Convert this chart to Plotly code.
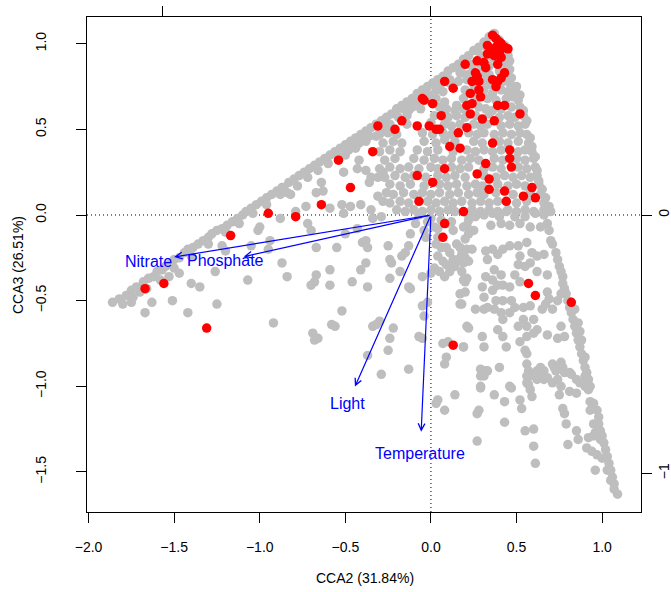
import plotly.graph_objects as go

# ---------------- data (site scores, CCA2 vs CCA3) ----------------
gray_left_band = [
    (-1.86, -0.51), (-1.82, -0.49), (-1.78, -0.47), (-1.75, -0.44), (-1.72, -0.42), (-1.70, -0.45),
    (-1.68, -0.39), (-1.65, -0.37), (-1.62, -0.36), (-1.60, -0.33), (-1.57, -0.32), (-1.55, -0.30),
    (-1.52, -0.28), (-1.50, -0.26), (-1.47, -0.25), (-1.44, -0.22), (-1.42, -0.20), (-1.39, -0.19),
    (-1.36, -0.17), (-1.33, -0.15), (-1.30, -0.13), (-1.28, -0.11), (-1.25, -0.09), (-1.22, -0.08),
    (-1.19, -0.06), (-1.16, -0.04), (-1.13, -0.02), (-1.10, 0.00), (-1.08, 0.02), (-1.05, 0.04),
    (-1.02, 0.06), (-0.99, 0.08), (-0.96, 0.10), (-0.93, 0.12), (-0.90, 0.14), (-0.87, 0.16),
    (-1.80, -0.52), (-1.74, -0.48), (-1.66, -0.43), (-1.58, -0.38), (-1.50, -0.31), (-1.40, -0.24),
    (-1.30, -0.17), (-1.20, -0.10), (-1.12, -0.05), (-1.04, 0.01), (-0.96, 0.06), (-0.88, 0.12),
]
gray_left_scatter = [
    (-1.75, -0.51), (-1.67, -0.57), (-1.63, -0.51), (-1.51, -0.50), (-1.53, -0.36), (-1.47, -0.34),
    (-1.40, -0.40), (-1.35, -0.42), (-1.42, -0.57), (-1.25, -0.52), (-1.26, -0.33), (-1.22, -0.18),
    (-1.20, -0.21), (-1.07, -0.38), (-1.00, -0.07), (-1.01, -0.09), (-0.94, -0.15), (-0.95, -0.20),
    (-0.87, -0.28), (-0.84, -0.36), (-0.88, -0.02), (-0.82, 0.12), (-0.92, -0.63), (-1.05, -0.18),
]
gray_upper_band = [
    (-0.86, 0.16), (-0.83, 0.19), (-0.80, 0.21), (-0.77, 0.23), (-0.74, 0.25), (-0.71, 0.27),
    (-0.68, 0.29), (-0.65, 0.31), (-0.62, 0.33), (-0.59, 0.35), (-0.56, 0.37), (-0.53, 0.39),
    (-0.50, 0.41), (-0.47, 0.43), (-0.44, 0.45), (-0.41, 0.47), (-0.38, 0.49), (-0.35, 0.51),
    (-0.32, 0.53), (-0.29, 0.55), (-0.26, 0.57), (-0.23, 0.59),
    (-0.84, 0.13), (-0.78, 0.17), (-0.72, 0.22), (-0.66, 0.26), (-0.60, 0.30), (-0.54, 0.34),
    (-0.48, 0.38), (-0.42, 0.42), (-0.36, 0.46), (-0.30, 0.50), (-0.25, 0.53),
    (-0.50, 0.35), (-0.44, 0.39), (-0.38, 0.43), (-0.32, 0.46), (-0.27, 0.49),
]
gray_upper_inner = [
    (-0.42, 0.32), (-0.43, 0.27), (-0.38, 0.26), (-0.51, 0.25), (-0.64, 0.19), (-0.67, 0.13),
    (-0.63, 0.14), (-0.52, 0.06), (-0.47, 0.05), (-0.41, 0.06), (-0.36, 0.19), (-0.35, 0.22),
    (-0.31, 0.22), (-0.28, 0.25), (-0.31, 0.11), (-0.28, 0.08), (-0.26, 0.13), (-0.73, 0.05),
    (-0.79, 0.02), (-0.59, 0.04), (-0.51, 0.01), (-0.35, 0.03),
]
gray_top_band = [
    (-0.20, 0.62), (-0.17, 0.64), (-0.14, 0.66), (-0.11, 0.68), (-0.08, 0.71), (-0.05, 0.73),
    (-0.02, 0.75), (0.01, 0.77), (0.04, 0.79), (0.07, 0.81), (0.10, 0.84), (0.13, 0.86),
    (0.16, 0.88), (0.19, 0.91), (0.22, 0.93), (0.25, 0.96), (0.28, 0.98), (0.31, 1.01),
    (0.34, 1.04), (0.37, 1.06),
    (-0.19, 0.57), (-0.13, 0.61), (-0.07, 0.66), (-0.01, 0.70), (0.05, 0.74), (0.11, 0.79),
    (0.17, 0.83), (0.23, 0.88), (0.29, 0.93), (0.33, 0.97),
]
gray_core = [
    (0.40, 1.02), (0.43, 0.99), (0.39, 0.97),
    (0.31, 0.93), (0.36, 0.92), (0.41, 0.94), (0.45, 0.93),
    (0.24, 0.87), (0.29, 0.88), (0.34, 0.87), (0.39, 0.89), (0.44, 0.88), (0.46, 0.85),
    (0.18, 0.83), (0.22, 0.82), (0.30, 0.83), (0.34, 0.82), (0.40, 0.84), (0.45, 0.82),
    (0.11, 0.77), (0.16, 0.78), (0.21, 0.79), (0.25, 0.76), (0.31, 0.78), (0.35, 0.76), (0.42, 0.78), (0.46, 0.77),
    (0.03, 0.73), (0.07, 0.72), (0.20, 0.73), (0.25, 0.72), (0.31, 0.73), (0.36, 0.71), (0.41, 0.73), (0.45, 0.72), (0.49, 0.73),
    (-0.07, 0.68), (-0.02, 0.67), (0.03, 0.68), (0.08, 0.66), (0.15, 0.64), (0.19, 0.68), (0.26, 0.67), (0.33, 0.68),
    (0.38, 0.67), (0.44, 0.68), (0.48, 0.69), (0.51, 0.67),
    (-0.16, 0.62), (-0.11, 0.63), (-0.06, 0.62), (0.05, 0.63), (0.09, 0.62), (0.14, 0.61), (0.19, 0.62), (0.28, 0.63),
    (0.32, 0.62), (0.36, 0.61), (0.41, 0.62), (0.47, 0.63), (0.52, 0.63),
    (-0.14, 0.58), (0.02, 0.58), (0.10, 0.57), (0.15, 0.58), (0.20, 0.57), (0.26, 0.58), (0.34, 0.59), (0.40, 0.57),
    (0.45, 0.58), (0.49, 0.57), (0.54, 0.58),
    (-0.28, 0.52), (-0.24, 0.53), (-0.14, 0.53), (0.00, 0.54), (0.08, 0.53), (0.12, 0.52), (0.17, 0.53), (0.25, 0.53),
    (0.29, 0.52), (0.33, 0.53), (0.41, 0.52), (0.46, 0.53), (0.51, 0.52), (0.55, 0.53),
    (-0.30, 0.47), (-0.25, 0.48), (-0.20, 0.47), (-0.05, 0.48), (0.01, 0.47), (0.07, 0.48), (0.12, 0.47), (0.22, 0.48),
    (0.27, 0.47), (0.31, 0.48), (0.37, 0.47), (0.42, 0.48), (0.47, 0.47), (0.52, 0.48), (0.56, 0.47),
    (-0.28, 0.42), (-0.22, 0.43), (-0.17, 0.42), (-0.04, 0.43), (0.03, 0.42), (0.08, 0.44), (0.14, 0.43), (0.25, 0.43),
    (0.30, 0.42), (0.40, 0.43), (0.45, 0.42), (0.51, 0.43), (0.57, 0.42),
    (-0.30, 0.37), (-0.24, 0.38), (-0.18, 0.37), (-0.08, 0.38), (-0.02, 0.37), (0.04, 0.38), (0.13, 0.37), (0.21, 0.38),
    (0.26, 0.37), (0.31, 0.38), (0.36, 0.37), (0.41, 0.38), (0.51, 0.37), (0.55, 0.38), (0.59, 0.37),
    (-0.27, 0.32), (-0.21, 0.33), (-0.10, 0.33), (-0.04, 0.32), (0.02, 0.33), (0.07, 0.32), (0.12, 0.33), (0.18, 0.32),
    (0.23, 0.33), (0.28, 0.32), (0.37, 0.33), (0.42, 0.32), (0.50, 0.33), (0.55, 0.32), (0.60, 0.33),
    (-0.30, 0.27), (-0.24, 0.28), (-0.18, 0.27), (-0.13, 0.28), (-0.07, 0.27), (0.00, 0.28), (0.04, 0.27), (0.12, 0.28),
    (0.17, 0.27), (0.22, 0.28), (0.31, 0.27), (0.36, 0.28), (0.41, 0.27), (0.51, 0.28), (0.56, 0.27), (0.61, 0.28),
    (-0.27, 0.22), (-0.21, 0.23), (-0.15, 0.22), (-0.10, 0.23), (-0.03, 0.22), (0.04, 0.23), (0.09, 0.22), (0.14, 0.23),
    (0.20, 0.22), (0.31, 0.23), (0.38, 0.22), (0.43, 0.23), (0.48, 0.22), (0.53, 0.23), (0.58, 0.22), (0.62, 0.23),
    (-0.24, 0.18), (-0.18, 0.17), (-0.12, 0.18), (-0.04, 0.17), (0.05, 0.18), (0.10, 0.17), (0.15, 0.18), (0.21, 0.17),
    (0.26, 0.18), (0.30, 0.17), (0.39, 0.18), (0.45, 0.17), (0.50, 0.18), (0.55, 0.17), (0.63, 0.18),
    (-0.22, 0.12), (-0.16, 0.13), (-0.10, 0.12), (-0.05, 0.13), (0.00, 0.12), (0.05, 0.13), (0.11, 0.12), (0.16, 0.13),
    (0.22, 0.12), (0.27, 0.13), (0.31, 0.12), (0.38, 0.13), (0.48, 0.12), (0.58, 0.13), (0.64, 0.12),
    (-0.24, 0.07), (-0.18, 0.08), (-0.13, 0.07), (-0.02, 0.08), (0.03, 0.07), (0.08, 0.08), (0.13, 0.07), (0.18, 0.08),
    (0.24, 0.07), (0.29, 0.08), (0.34, 0.07), (0.39, 0.08), (0.50, 0.07), (0.56, 0.08), (0.66, 0.07),
    (-0.20, 0.03), (-0.15, 0.02), (-0.10, 0.03), (-0.05, 0.02), (0.00, 0.03), (0.05, 0.02), (0.10, 0.03), (0.14, 0.02),
    (0.24, 0.03), (0.29, 0.02), (0.34, 0.03), (0.39, 0.02), (0.45, 0.03), (0.50, 0.02), (0.55, 0.03), (0.60, 0.02),
    (0.66, 0.03), (0.70, 0.02),
]
gray_right_upper = [
    (0.44, 0.96), (0.46, 0.90), (0.47, 0.80), (0.50, 0.75), (0.52, 0.70), (0.54, 0.61), (0.56, 0.55),
    (0.58, 0.45), (0.59, 0.40), (0.61, 0.34), (0.62, 0.26), (0.63, 0.20), (0.65, 0.15), (0.67, 0.10), (0.69, 0.05),
]
gray_mid_below = [
    (-0.72, -0.05), (-0.70, -0.09), (-0.67, -0.19), (-0.55, -0.19), (-0.50, -0.11), (-0.43, -0.08),
    (-0.40, -0.16), (-0.38, -0.15), (-0.37, -0.19), (-0.34, -0.02), (-0.29, -0.01), (-0.25, -0.18),
    (-0.24, -0.26), (-0.23, -0.28), (-0.18, -0.33), (-0.17, -0.24), (-0.15, -0.22), (-0.13, -0.18),
    (-0.12, -0.11), (-0.09, -0.05), (-0.07, 0.00), (-0.04, -0.09), (-0.02, -0.04), (-0.03, -0.13),
    (-0.59, -0.32), (-0.67, -0.35), (-0.68, -0.39), (-0.70, -0.41), (-0.59, -0.41), (-0.46, -0.39),
    (-0.41, -0.32), (-0.38, -0.28), (-0.37, -0.42), (-0.24, -0.37), (-0.13, -0.42), (-0.12, -0.43),
    (-0.05, -0.36), (0.00, -0.34),
    (-0.52, -0.56), (-0.58, -0.64), (-0.56, -0.65), (-0.69, -0.69), (-0.68, -0.73), (-0.66, -0.72),
    (-0.34, -0.65), (-0.30, -0.62), (-0.32, -0.64), (-0.22, -0.66), (-0.24, -0.72), (-0.25, -0.79),
    (-0.37, -0.82), (-0.29, -0.93), (-0.07, -0.71), (-0.05, -0.72), (-0.04, -0.59), (-0.05, -0.53),
    (-0.02, -0.51), (-0.13, -0.90), (0.07, -0.75), (0.10, -0.74), (0.08, -0.87), (0.09, -0.83),
    (0.19, -0.77), (0.17, -0.52), (0.17, -0.46), (0.21, -0.65), (0.21, -0.37), (0.20, -0.39),
    (0.02, -0.07), (0.06, -0.03), (0.09, -0.05), (0.13, -0.09), (0.15, -0.17), (0.19, -0.07),
    (0.22, -0.11), (0.09, -0.19), (0.04, -0.24), (0.07, -0.27), (0.09, -0.29), (0.13, -0.26),
    (0.16, -0.26), (0.19, -0.28), (0.22, -0.27), (0.02, -0.31), (0.05, -0.33), (0.08, -0.36),
    (0.11, -0.33), (0.17, -0.19), (0.04, -0.13), (0.22, -0.03),
    (0.00, -0.02), (0.04, -0.08), (0.12, -0.04), (0.20, -0.14), (0.11, -0.22), (0.18, -0.23),
    (0.06, -0.19), (0.03, -0.17), (0.14, -0.30), (0.18, -0.33), (0.21, -0.20),
]
gray_right_below = [
    (0.21, 0.01), (0.26, -0.01), (0.31, 0.00), (0.36, 0.01), (0.40, -0.01), (0.44, 0.02), (0.49, -0.01),
    (0.55, -0.01), (0.61, 0.01), (0.66, 0.00), (0.68, -0.05), (0.21, -0.06), (0.25, -0.09), (0.35, -0.06),
    (0.41, -0.05), (0.46, -0.06), (0.52, -0.05), (0.58, -0.07), (0.64, -0.07),
    (0.69, -0.09), (0.70, -0.15), (0.71, -0.17), (0.73, -0.22), (0.74, -0.26), (0.75, -0.30), (0.76, -0.33),
    (0.77, -0.36), (0.77, -0.40), (0.78, -0.43), (0.79, -0.46), (0.80, -0.50), (0.81, -0.54), (0.82, -0.57),
    (0.83, -0.61), (0.84, -0.65), (0.85, -0.69), (0.86, -0.73), (0.87, -0.77), (0.88, -0.81), (0.89, -0.85),
    (0.90, -0.89), (0.91, -0.92), (0.92, -0.96), (0.93, -1.00),
    (0.84, -0.55), (0.86, -0.63), (0.87, -0.68), (0.88, -0.73), (0.90, -0.83), (0.90, -0.94),
    (0.24, -0.20), (0.20, -0.25), (0.19, -0.38), (0.20, -0.45), (0.18, -0.52), (0.26, -0.55), (0.31, -0.55),
    (0.33, -0.54), (0.32, -0.21), (0.33, -0.26), (0.36, -0.20), (0.39, -0.23), (0.42, -0.20), (0.46, -0.18),
    (0.51, -0.18), (0.52, -0.24), (0.56, -0.16), (0.59, -0.22), (0.62, -0.24), (0.66, -0.23), (0.58, -0.28),
    (0.55, -0.30), (0.51, -0.29), (0.49, -0.35), (0.52, -0.39), (0.62, -0.33), (0.68, -0.35), (0.41, -0.35),
    (0.37, -0.32), (0.36, -0.38), (0.32, -0.36), (0.30, -0.42), (0.31, -0.48), (0.36, -0.44), (0.39, -0.41),
    (0.42, -0.41), (0.46, -0.42), (0.42, -0.50), (0.47, -0.50), (0.38, -0.50), (0.37, -0.55), (0.41, -0.57),
    (0.42, -0.61), (0.46, -0.57), (0.49, -0.54), (0.54, -0.54), (0.58, -0.53), (0.60, -0.61), (0.65, -0.55),
    (0.68, -0.45), (0.69, -0.49), (0.67, -0.52), (0.71, -0.55), (0.74, -0.50), (0.76, -0.46), (0.54, -0.61),
    (0.51, -0.65), (0.56, -0.65), (0.62, -0.67), (0.68, -0.70), (0.76, -0.65), (0.74, -0.72), (0.78, -0.71),
    (0.22, -0.66), (0.30, -0.71), (0.31, -0.77), (0.19, -0.77), (0.39, -0.67), (0.42, -0.71), (0.44, -0.77),
    (0.52, -0.74), (0.56, -0.71), (0.60, -0.69), (0.55, -0.79), (0.56, -0.81), (0.56, -0.87), (0.57, -0.91),
    (0.58, -0.94), (0.56, -0.98), (0.64, -0.89), (0.66, -0.91), (0.71, -0.87), (0.72, -0.89), (0.76, -0.86),
    (0.77, -0.89), (0.78, -0.92), (0.81, -0.92), (0.85, -0.96), (0.29, -0.90), (0.32, -0.91), (0.31, -0.94),
    (0.40, -0.89), (0.29, -1.00), (0.46, -1.00), (0.71, -0.98), (0.62, -0.96),
]
gray_bottom = [
    (0.04, -1.08), (0.03, -1.10), (0.08, -1.14), (0.14, -1.05), (0.29, -0.94), (0.29, -1.01), (0.27, -1.16),
    (0.28, -1.14), (0.27, -1.32), (0.37, -1.05), (0.43, -1.09), (0.43, -1.21), (0.47, -1.01), (0.52, -1.08),
    (0.53, -1.13), (0.55, -1.26), (0.60, -1.25), (0.60, -1.35), (0.61, -1.45), (0.56, -0.94), (0.57, -0.99),
    (0.58, -1.02), (0.59, -1.06), (0.64, -0.92), (0.66, -0.96), (0.68, -0.95), (0.73, -0.91), (0.74, -0.96),
    (0.76, -1.00), (0.75, -1.05), (0.77, -1.13), (0.78, -1.16), (0.79, -1.22), (0.80, -1.34), (0.85, -1.26),
    (0.86, -1.31), (0.81, -1.03), (0.85, -1.04), (0.87, -0.98), (0.90, -1.00), (0.92, -1.02), (0.93, -1.09),
    (0.95, -1.10), (0.93, -1.14), (0.97, -1.14), (0.98, -1.18), (0.98, -1.22), (0.99, -1.26), (1.00, -1.29),
    (1.01, -1.33), (1.02, -1.37), (1.03, -1.41), (1.04, -1.45), (1.05, -1.49), (1.06, -1.53), (1.07, -1.57),
    (1.09, -1.63), (0.95, -1.22), (0.96, -1.27), (0.95, -1.29), (0.92, -1.30), (0.91, -1.36), (0.94, -1.38),
    (0.97, -1.40), (0.96, -1.49), (0.99, -1.31), (1.03, -1.49), (1.05, -1.55), (1.07, -1.60), (1.00, -1.42),
    (0.33, -0.91), (0.62, -0.91), (0.82, -0.93), (0.91, -0.95),
]

red_sites = [
    (-1.67, -0.43), (-1.56, -0.40), (-1.31, -0.66), (-1.17, -0.12), (-0.95, 0.01), (-0.79, -0.01),
    (-0.64, 0.06), (-0.54, 0.32), (-0.47, 0.16), (-0.34, 0.37), (-0.31, 0.52),
    (0.36, 1.05), (0.38, 1.03), (0.40, 1.01), (0.41, 1.00), (0.43, 0.98), (0.45, 0.97),
    (0.33, 0.99), (0.38, 0.98), (0.35, 0.95), (0.40, 0.95), (0.33, 0.94), (0.37, 0.93),
    (0.41, 0.92), (0.39, 0.88), (0.20, 0.88), (0.27, 0.90), (0.31, 0.89), (0.32, 0.86), (0.43, 0.83),
    (0.26, 0.83), (0.27, 0.81), (0.28, 0.78), (0.24, 0.78), (0.36, 0.79), (0.39, 0.78), (0.41, 0.80),
    (0.38, 0.75), (0.08, 0.78), (0.13, 0.74), (0.28, 0.73), (0.29, 0.69), (0.23, 0.71), (-0.05, 0.68),
    (-0.04, 0.67), (0.01, 0.65), (0.21, 0.64), (0.24, 0.65), (0.39, 0.64), (0.43, 0.64), (0.06, 0.58),
    (0.23, 0.59), (0.52, 0.59), (0.30, 0.56), (0.37, 0.55), (-0.17, 0.55), (-0.21, 0.50), (-0.08, 0.52),
    (-0.01, 0.52), (0.03, 0.50), (0.05, 0.50), (0.16, 0.48), (0.21, 0.51), (0.36, 0.42), (0.11, 0.40),
    (0.17, 0.39), (0.46, 0.38), (0.46, 0.33), (0.47, 0.28), (0.32, 0.30), (0.08, 0.27), (0.27, 0.24),
    (-0.08, 0.23), (0.34, 0.21), (0.01, 0.19), (0.59, 0.16), (0.34, 0.15), (0.43, 0.14), (0.54, 0.11),
    (0.61, 0.10), (-0.07, 0.08), (0.44, 0.08), (0.19, 0.02), (0.08, -0.05), (0.07, -0.13), (0.13, -0.76),
    (0.57, -0.40), (0.61, -0.47), (0.82, -0.51),
]

# environmental vectors (biplot arrows)
env_names = ["Nitrate", "Phosphate", "Light", "Temperature"]
env_x = [-1.500, -1.093, -0.444, -0.057]
env_y = [-0.245, -0.243, -1.002, -1.265]
label_scale = 1.1

x_ticks = [-2.0, -1.5, -1.0, -0.5, 0.0, 0.5, 1.0]
x_tick_text = ["\u22122.0", "\u22121.5", "\u22121.0", "\u22120.5", "0.0", "0.5", "1.0"]
y_ticks = [-1.5, -1.0, -0.5, 0.0, 0.5, 1.0]
y_tick_text = ["\u22121.5", "\u22121.0", "\u22120.5", "0.0", "0.5", "1.0"]
top_ticks = [-1, 0]
right_ticks = [-1, 0]
right_tick_text = ["\u22121", "0"]
x_title = "CCA2 (31.84%)"
y_title = "CCA3 (26.51%)"

# ---------------- figure ----------------
gray_all = (gray_left_band + gray_left_scatter + gray_upper_band + gray_upper_inner + gray_top_band
            + gray_core + gray_right_upper + gray_mid_below + gray_right_below + gray_bottom)
gx = [p[0] for p in gray_all]
gy = [p[1] for p in gray_all]
rx = [p[0] for p in red_sites]
ry = [p[1] for p in red_sites]

FONT = "Liberation Sans, Arial, Helvetica, sans-serif"
MS = 9.5

fig = go.Figure()
fig.add_trace(go.Scatter(x=gx, y=gy, mode="markers",
                         marker=dict(color="#BEBEBE", size=MS, line=dict(width=0)),
                         hoverinfo="skip", showlegend=False))
fig.add_trace(go.Scatter(x=rx, y=ry, mode="markers",
                         marker=dict(color="#FF0000", size=MS, line=dict(width=0)),
                         hoverinfo="skip", showlegend=False))
# invisible trace so the secondary (top / right) axes are drawn
fig.add_trace(go.Scatter(x=top_ticks, y=right_ticks, xaxis="x2", yaxis="y2", mode="markers",
                         marker=dict(opacity=0), hoverinfo="skip", showlegend=False))

# dotted reference lines through the origin
fig.add_shape(type="line", xref="paper", yref="y", x0=0, x1=1, y0=0, y1=0,
              line=dict(color="black", width=1, dash="1px,3px"), layer="below")
fig.add_shape(type="line", xref="x", yref="paper", x0=0, x1=0, y0=0, y1=1,
              line=dict(color="black", width=1, dash="1px,3px"), layer="below")

for name, ex, ey in zip(env_names, env_x, env_y):
    fig.add_annotation(x=ex, y=ey, ax=0, ay=0, xref="x", yref="y", axref="x", ayref="y",
                       text="", showarrow=True, arrowhead=5, arrowsize=1.1, arrowwidth=1.2,
                       arrowcolor="#0000FF", standoff=0, startstandoff=0)
    fig.add_annotation(x=ex * label_scale, y=ey * label_scale, xref="x", yref="y", text=name,
                       showarrow=False, xanchor="center", yanchor="middle",
                       font=dict(family=FONT, size=16, color="#0000FF"))

fig.add_annotation(x=0.502, y=-0.133, xref="paper", yref="paper", text=x_title, showarrow=False,
                   xanchor="center", yanchor="middle", font=dict(family=FONT, size=14, color="black"))
fig.add_annotation(x=-0.1245, y=0.499, xref="paper", yref="paper", text=y_title, showarrow=False,
                   textangle=-90, xanchor="center", yanchor="middle",
                   font=dict(family=FONT, size=14, color="black"))

axis_common = dict(showgrid=False, zeroline=False, ticks="outside", ticklen=10, tickwidth=1,
                   tickcolor="black", tickfont=dict(family=FONT, size=14, color="black"))

fig.update_layout(
    width=671, height=592, autosize=False,
    margin=dict(l=87, r=30, t=17, b=80, autoexpand=False),
    paper_bgcolor="white", plot_bgcolor="white",
    xaxis=dict(range=[-2.009, 1.227], tickmode="array", tickvals=x_ticks, ticktext=x_tick_text,
               showline=True, linecolor="black", linewidth=1, mirror=True,
               ticklabelstandoff=12, **axis_common),
    yaxis=dict(range=[-1.734, 1.156], tickmode="array", tickvals=y_ticks, ticktext=y_tick_text,
               tickangle=-90, showline=True, linecolor="black", linewidth=1, mirror=True,
               ticklabelstandoff=24, **axis_common),
    xaxis2=dict(overlaying="x", side="top", anchor="y", range=[-1.284, 0.787], tickmode="array",
                tickvals=top_ticks, showticklabels=False, showline=False, **axis_common),
    yaxis2=dict(overlaying="y", side="right", anchor="x", range=[-1.150, 0.767], tickmode="array",
                tickvals=right_ticks, ticktext=right_tick_text, tickangle=-90, showline=False,
                ticklabelstandoff=0, **axis_common),
    showlegend=False,
)

fig.write_html("out.html", config={"responsive": False, "displayModeBar": False},
               post_script="document.body.style.margin='0';document.body.style.overflow='hidden';")
